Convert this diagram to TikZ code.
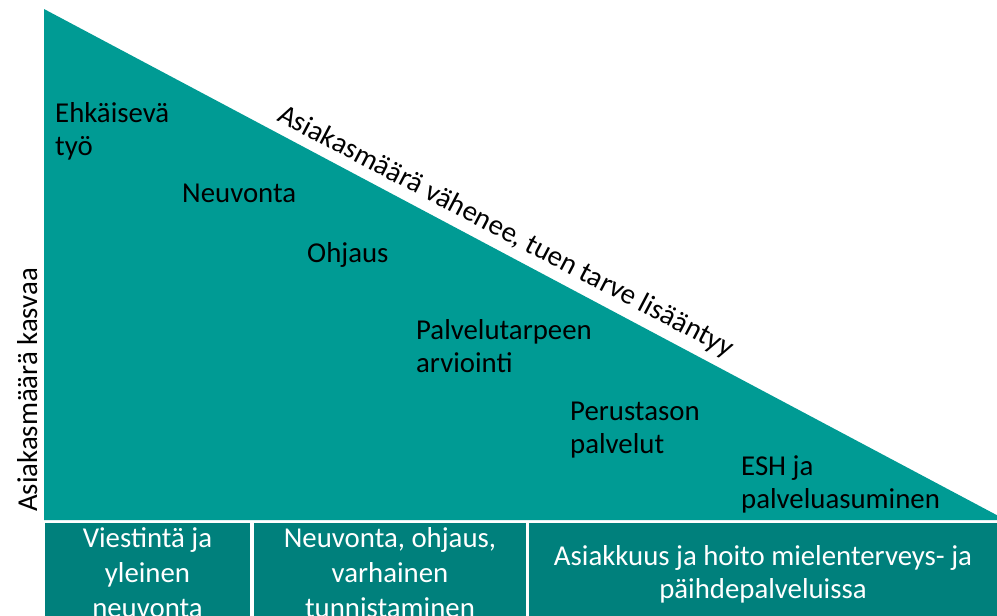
\documentclass[tikz,border=0pt]{standalone}
\usepackage{fontspec}
\setmainfont{Carlito}
\definecolor{tri}{RGB}{0,155,148}
\definecolor{boxc}{RGB}{0,128,124}
\begin{document}
\begin{tikzpicture}[x=1pt,y=-1pt,
  lbl/.style={font=\fontsize{28.8}{33}\selectfont, inner sep=0pt, text=black},
  wlbl/.style={font=\fontsize{28.8}{35}\selectfont, inner sep=0pt, text=white, align=center},
  boxr/.style={fill=boxc, draw=none}]
\clip (0,0) rectangle (997,616);
\coordinate (tA) at (44,9);
\coordinate (tB) at (44,520);
\coordinate (tC) at (1006,520);
\fill[tri] (tA) -- (tB) -- (tC) -- cycle;
\coordinate (b1a) at (45,523);  \coordinate (b1b) at (250,650);
\coordinate (b2a) at (254,523); \coordinate (b2b) at (526,650);
\coordinate (b3a) at (529,523); \coordinate (b3b) at (1000,650);
\path[boxr] (b1a) rectangle (b1b);
\path[boxr] (b2a) rectangle (b2b);
\path[boxr] (b3a) rectangle (b3b);
\node[lbl, align=left, anchor=base west] (t1) at (55,155) {Ehkäisevä\\työ};
\node[lbl, anchor=base west] (t2) at (182,202) {Neuvonta};
\node[lbl, anchor=base west] (t3) at (307,262) {Ohjaus};
\node[lbl, align=left, anchor=base west] (t4) at (416,372) {Palvelutarpeen\\arviointi};
\node[lbl, align=left, anchor=base west] (t5) at (570,453) {Perustason\\palvelut};
\node[lbl, align=left, anchor=base west] (t6) at (741,508) {ESH ja\\palveluasuminen};
\node[lbl, rotate=-27.7, anchor=base west] (diag) at (276,120) {Asiakasmäärä vähenee, tuen tarve lisääntyy};
\node[lbl, rotate=90, anchor=base] (lft) at (37,390) {Asiakasmäärä kasvaa};
\node[wlbl, anchor=base] (w1) at (147.5,617) {Viestintä ja\\yleinen\\neuvonta};
\node[wlbl, anchor=base] (w2) at (390,617) {Neuvonta, ohjaus,\\varhainen\\tunnistaminen};
\node[wlbl, anchor=base, font=\fontsize{28.8}{33}\selectfont] (w3) at (763,598) {Asiakkuus ja hoito mielenterveys- ja\\päihdepalveluissa};
\end{tikzpicture}
\end{document}
